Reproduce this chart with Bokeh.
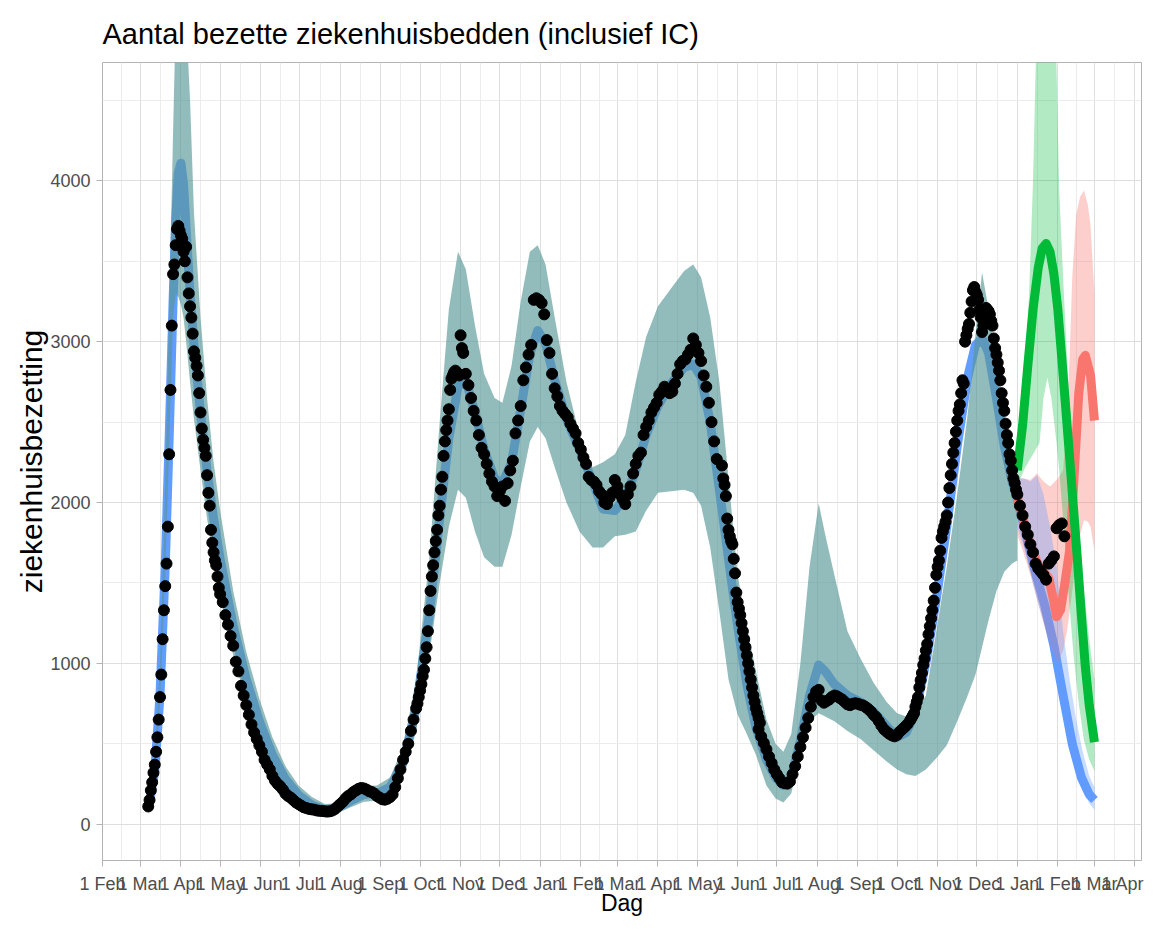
import pandas as pd
from bokeh.plotting import figure
from bokeh.models import FixedTicker, Range1d
from bokeh.embed import file_html
from bokeh.resources import INLINE

# x positions are days since 2020-02-01
ORIGIN = pd.Timestamp("2020-02-01")

TITLE = "Aantal bezette ziekenhuisbedden (inclusief IC)"
X_LABEL = "Dag"
Y_LABEL = "ziekenhuisbezetting"

# ---- axis ticks -------------------------------------------------------
tick_dates = pd.date_range("2020-02-01", "2022-04-01", freq="MS")
tick_labels = ["1 Feb", "1 Mar", "1 Apr", "1 May", "1 Jun", "1 Jul", "1 Aug", "1 Sep",
               "1 Oct", "1 Nov", "1 Dec", "1 Jan", "1 Feb", "1 Mar", "1 Apr", "1 May",
               "1 Jun", "1 Jul", "1 Aug", "1 Sep", "1 Oct", "1 Nov", "1 Dec", "1 Jan",
               "1 Feb", "1 Mar", "1 Apr"]
y_ticks = [0, 1000, 2000, 3000, 4000]
y_minor = [500, 1500, 2500, 3500, 4500]

# ---- observed hospital occupancy (black points) -------------------------
# segments: (first date, step in days, values)
pts_mar20 = [110, 150, 210, 260, 320, 370, 450, 540, 650, 790,
             930, 1150, 1330, 1480, 1620, 1850, 2300, 2700, 3100, 3420,
             3480, 3600, 3700, 3720, 3690, 3660, 3640, 3560, 3500, 3590,
             3400, 3300, 3220, 3150, 3050, 2940, 2900, 2850, 2790, 2680,
             2560, 2460, 2390, 2340, 2290, 2170, 2060, 1980, 1830, 1750,
             1690, 1640, 1610, 1540, 1470, 1430]
pts_may20 = [1380, 1300, 1240, 1170, 1110, 1010, 950, 860, 800, 740,
             680, 620, 570, 530, 490, 450, 400, 370, 340, 300,
             270, 250, 235, 215, 190, 175, 165, 150, 135, 125,
             115, 105, 100, 95, 92, 90, 85, 83, 82, 80,
             78, 80, 85, 95, 110, 125, 140, 160, 175, 185,
             200, 210, 220, 225, 222, 215, 205, 200, 190, 175,
             165, 155, 152, 158, 168, 185, 230, 285, 340, 400,
             450, 500, 580, 650]
pts_sep20 = [720, 750, 790, 830, 870, 920, 960, 1030, 1100, 1200,
             1330, 1450, 1540, 1610, 1690, 1760, 1830, 1920, 1980, 2080,
             2160, 2290, 2380, 2450, 2510, 2580, 2700, 2770, 2790, 2810,
             2820, 2810, 2800, 2790, 3040, 2960, 2930]
pts_nov20 = [2800, 2730, 2650, 2570, 2510, 2420, 2340,
             2300, 2240, 2180, 2130, 2100, 2040, 2070, 2100, 2010, 2120,
             2200, 2260, 2430, 2510, 2600, 2760, 2840, 2920, 2980, 3260,
             3270, 3260, 3240, 3170, 3010, 2930, 2800, 2710, 2660, 2600,
             2570, 2550, 2530, 2490, 2460, 2430, 2370, 2330, 2280, 2240,
             2160, 2140, 2130, 2110, 2070, 2050, 2000, 1990, 2030, 2060,
             2140, 2100, 2050, 2020, 1990, 2050, 2100, 2180, 2240, 2290,
             2310, 2420, 2470, 2510, 2560, 2590, 2620, 2670, 2690, 2720,
             2700, 2680, 2690, 2740, 2800, 2860, 2880, 2890, 2920, 2950,
             3020, 2980, 2930, 2880, 2790, 2720, 2620, 2500, 2380, 2270]
pts_may21 = [2230, 2150, 2110, 2040, 1900, 1830, 1790, 1760, 1740, 1650,
             1560, 1440, 1380, 1340, 1300, 1250, 1200, 1150, 1100, 1050,
             1000, 950, 900, 850, 800, 760, 720, 690, 660, 630]
pts_jun21 = [590, 545, 505, 465, 420,
             380, 340, 310, 285, 260, 255, 252, 265, 310, 360,
             420, 480, 540, 600, 660, 730, 790, 825, 835, 770,
             755, 765, 775, 790, 800, 795, 785, 775, 760, 745,
             740, 748, 752, 748, 742, 738, 728, 715, 700, 680,
             665, 640, 612, 590, 575, 562, 552, 546, 555, 575,
             590, 605, 622, 645]
pts_oct21 = [660, 675, 690, 730, 760, 790, 850, 895, 940, 990,
             1030, 1080, 1120, 1180, 1230, 1280, 1330, 1390, 1470, 1550,
             1600, 1640, 1700, 1780, 1820, 1850, 1880, 1920, 2000, 2090,
             2170, 2240, 2310, 2370, 2440, 2510, 2570, 2610, 2680, 2760,
             2740, 3000, 3040, 3080, 3110, 3180, 3250, 3320, 3340, 3310,
             3290, 3260, 3200, 3150, 3060, 3100, 3180, 3210, 3200, 3190,
             3170, 3130, 3100, 3020, 2960, 2920, 2870, 2820, 2760, 2680,
             2620, 2570, 2490, 2420, 2370, 2300, 2260, 2200, 2150, 2120,
             2080, 2050]
pts_jan22 = [1980, 1920, 1850, 1800, 1740, 1690, 1620, 1590, 1570, 1550,
             1520, 1620, 1640, 1665, 1840, 1860, 1870, 1790]
pt_segments = [("2020-03-07", 1, pts_mar20), ("2020-05-03", 2, pts_may20),
               ("2020-09-28", 1, pts_sep20), ("2020-11-05", 2, pts_nov20),
               ("2021-05-20", 1, pts_may21), ("2021-06-17", 2, pts_jun21),
               ("2021-10-12", 1, pts_oct21), ("2022-01-03", 2, pts_jan22)]

# ---- model fit (blue line, continues as blue scenario) ---------------------
fit_day = [35, 40, 44, 48, 51, 54, 56, 58, 60, 62, 64, 67, 70, 75, 80, 85, 90, 100, 110, 120,
           130, 140, 150, 160, 170, 180, 190, 200, 210, 220, 230, 240, 250, 258, 265, 272, 278,
           285, 292, 300, 306, 313, 320, 327, 333, 339, 346, 355, 365, 375, 383, 392, 400, 408,
           416, 425, 435, 445, 452, 458, 465, 472, 479, 486, 493, 500, 508, 515, 521, 527, 534,
           541, 548, 553, 560, 570, 580, 590, 600, 608, 615, 622, 630, 638, 646, 654, 662, 668,
           673, 678, 684, 690, 696, 700, 707, 714, 721, 728, 735, 742, 749, 755, 759]
fit_val = [90, 330, 800, 1600, 2400, 3250, 3750, 4050, 4110, 3980, 3700, 3300, 2980, 2560, 2200,
           1900, 1650, 1230, 900, 640, 430, 280, 180, 120, 90, 100, 145, 185, 190, 230, 380, 720,
           1300, 1900, 2400, 2720, 2760, 2560, 2330, 2150, 2120, 2250, 2580, 2920, 3070, 2990,
           2760, 2520, 2330, 2130, 1960, 1950, 2030, 2200, 2420, 2600, 2740, 2840, 2860, 2780,
           2500, 2080, 1650, 1230, 870, 600, 400, 290, 240, 290, 520, 800, 990, 950, 870, 800,
           760, 700, 610, 540, 570, 700, 1000, 1400, 1850, 2350, 2780, 2980, 3020, 2930, 2650,
           2350, 2130, 2020, 1790, 1560, 1360, 1110, 800, 500, 290, 185, 150]

# ---- confidence band of the fit (teal) -------------------------------------
band_day = fit_day[:94]
band_lo = [60, 300, 760, 1550, 2350, 3150, 3300, 3280, 3230, 3150, 3000, 2750, 2520, 2200, 1900,
           1650, 1420, 1050, 760, 530, 350, 225, 140, 90, 65, 70, 105, 140, 145, 170, 290, 580,
           1050, 1500, 1850, 2080, 2030, 1820, 1660, 1600, 1600, 1800, 2100, 2380, 2470, 2400,
           2220, 2000, 1820, 1720, 1720, 1790, 1800, 1820, 1950, 2060, 2070, 2080, 2060, 1980,
           1720, 1320, 900, 680, 560, 430, 240, 160, 135, 190, 440, 640, 690, 670, 640, 580,
           530, 460, 390, 340, 310, 300, 340, 410, 490, 640, 800, 930, 1100, 1270, 1450, 1570,
           1620, 1640]
band_up = [130, 420, 1000, 2100, 3200, 4300, 5000, 5400, 5500, 5300, 5000, 4500, 3800, 3150, 2650,
           2250, 1950, 1450, 1070, 780, 540, 360, 240, 170, 125, 130, 190, 235, 240, 290, 480, 900,
           1650, 2500, 3200, 3560, 3450, 3100, 2800, 2650, 2620, 2850, 3250, 3560, 3600, 3480,
           3150, 2750, 2420, 2220, 2250, 2300, 2420, 2750, 3030, 3220, 3330, 3440, 3480, 3400,
           3150, 2750, 2150, 1550, 1230, 950, 650, 500, 450, 560, 1000, 1600, 1995, 1800, 1550,
           1200, 1030, 880, 760, 690, 670, 690, 800, 1200, 1600, 2050, 2550, 3050, 3430, 3200,
           2900, 2560, 2310, 2160]

# ---- scenarios --------------------------------------------------------------
blue_rib_day = [700, 705, 710, 715, 720, 725, 730, 735, 740, 745, 750, 755, 759]
blue_rib_lo = [1850, 1720, 1560, 1400, 1260, 1120, 930, 700, 470, 330, 210, 130, 90]
blue_rib_up = [2150, 2150, 2130, 2170, 2050, 1850, 1600, 1200, 900, 650, 450, 300, 230]

red_day = [700, 705, 710, 716, 720, 724, 727, 730, 733, 736, 740, 743, 747, 750, 752, 756, 759]
red_val = [2030, 1880, 1740, 1610, 1570, 1530, 1420, 1290, 1330, 1480, 1700, 2100, 2680, 2890,
           2915, 2790, 2510]
red_rib_day = [700, 705, 710, 715, 720, 725, 731, 735, 738, 740, 742, 745, 748, 751, 754, 756, 759]
red_rib_lo = [1800, 1680, 1550, 1400, 1250, 1120, 1000, 1080, 1200, 1320, 1450, 1650, 1800, 1890,
              1880, 1850, 1700]
red_rib_up = [2150, 2150, 2140, 2180, 2130, 2100, 2150, 2200, 2500, 2900, 3400, 3790, 3900, 3940,
              3850, 3720, 3300]

green_day = [700, 704, 708, 712, 716, 719, 722, 725, 728, 731, 734, 737, 740, 743, 746, 749, 752,
             755, 759]
green_val = [2200, 2480, 2850, 3200, 3460, 3580, 3610, 3560, 3420, 3200, 2900, 2590, 2280, 1960,
             1640, 1300, 980, 740, 510]
green_rib_day = [700, 705, 709, 712, 714, 717, 720, 723, 726, 730, 732, 735, 739, 743, 747, 751,
                 755, 759]
green_rib_lo = [2100, 2200, 2260, 2300, 2330, 2370, 2650, 2775, 2650, 2370, 2200, 1900, 1450, 1050,
                750, 520, 400, 330]
green_rib_up = [2250, 2650, 3300, 4000, 4700, 5300, 5600, 5600, 5400, 4700, 3950, 3400, 2750, 2250,
                1850, 1450, 1150, 900]

# ---- derived positions ------------------------------------------------------
assert len(band_lo) == len(band_up) == len(band_day)
assert len(fit_day) == len(fit_val)
assert len(red_day) == len(red_val)
tick_days = [int((d - ORIGIN).days) for d in tick_dates]
minor_days = [(a + b) / 2 for a, b in zip(tick_days[:-1], tick_days[1:])]
pt_x, pt_y = [], []
for start, step, vals in pt_segments:
    d0 = (pd.Timestamp(start) - ORIGIN).days
    pt_x += [d0 + step * i for i in range(len(vals))]
    pt_y += vals

FONT = "Liberation Sans"

p = figure(width=1144, height=920, output_backend="svg", toolbar_location=None,
           x_range=Range1d(0, 795), y_range=Range1d(-226, 4736),
           min_border_left=102, min_border_right=3, min_border_top=62, min_border_bottom=60,
           background_fill_color="white", border_fill_color="white")

p.title.text = TITLE
p.title.text_font = FONT
p.title.text_font_size = "29px"
p.title.text_font_style = "normal"
p.title.text_color = "black"
p.title.align = "left"
p.title.vertical_align = "top"
p.title.offset = 0
p.title.standoff = 22

p.outline_line_color = "#b3b3b3"
p.outline_line_width = 1

xa = p.xaxis[0]
ya = p.yaxis[0]
xa.ticker = FixedTicker(ticks=tick_days, minor_ticks=minor_days)
xa.major_label_overrides = {d: lab for d, lab in zip(tick_days, tick_labels)}
ya.ticker = FixedTicker(ticks=y_ticks, minor_ticks=y_minor)

for ax in (xa, ya):
    ax.axis_line_color = None
    ax.major_tick_line_color = "#b3b3b3"
    ax.major_tick_out = 6
    ax.major_tick_in = 0
    ax.minor_tick_line_color = None
    ax.major_label_text_font = FONT
    ax.major_label_text_font_size = "18px"
    ax.major_label_text_color = "#4d4d4d"
    ax.axis_label_text_font = FONT
    ax.axis_label_text_font_style = "normal"
    ax.axis_label_text_color = "black"

xa.major_label_standoff = 7
ya.major_label_standoff = 6
xa.axis_label = X_LABEL
xa.axis_label_text_font_size = "23px"
xa.axis_label_standoff = -7
ya.axis_label = Y_LABEL
ya.axis_label_text_font_size = "30px"
ya.axis_label_standoff = -1

for g in (p.xgrid[0], p.ygrid[0]):
    g.grid_line_color = "#dedede"
    g.grid_line_width = 1
    g.minor_grid_line_color = "#ececec"
    g.minor_grid_line_width = 1

# fit line under the band
p.line(fit_day, fit_val, line_color="#619CFF", line_width=9, line_join="round")
p.varea(x=band_day, y1=band_lo, y2=band_up, fill_color="#589797", fill_alpha=0.65)

# scenario ribbons
p.varea(x=red_rib_day, y1=red_rib_lo, y2=red_rib_up, fill_color="#F8766D", fill_alpha=0.35)
p.varea(x=green_rib_day, y1=green_rib_lo, y2=green_rib_up, fill_color="#00BA38", fill_alpha=0.3)
p.varea(x=blue_rib_day, y1=blue_rib_lo, y2=blue_rib_up, fill_color="#619CFF", fill_alpha=0.35)

# scenario lines
p.line(red_day, red_val, line_color="#F8766D", line_width=9, line_join="round")
p.line(green_day, green_val, line_color="#00BA38", line_width=9, line_join="round")

# observations
p.scatter(pt_x, pt_y, marker="circle", size=11, fill_color="black", line_color="black")

open("out.html", "w").write(file_html(p, INLINE))
